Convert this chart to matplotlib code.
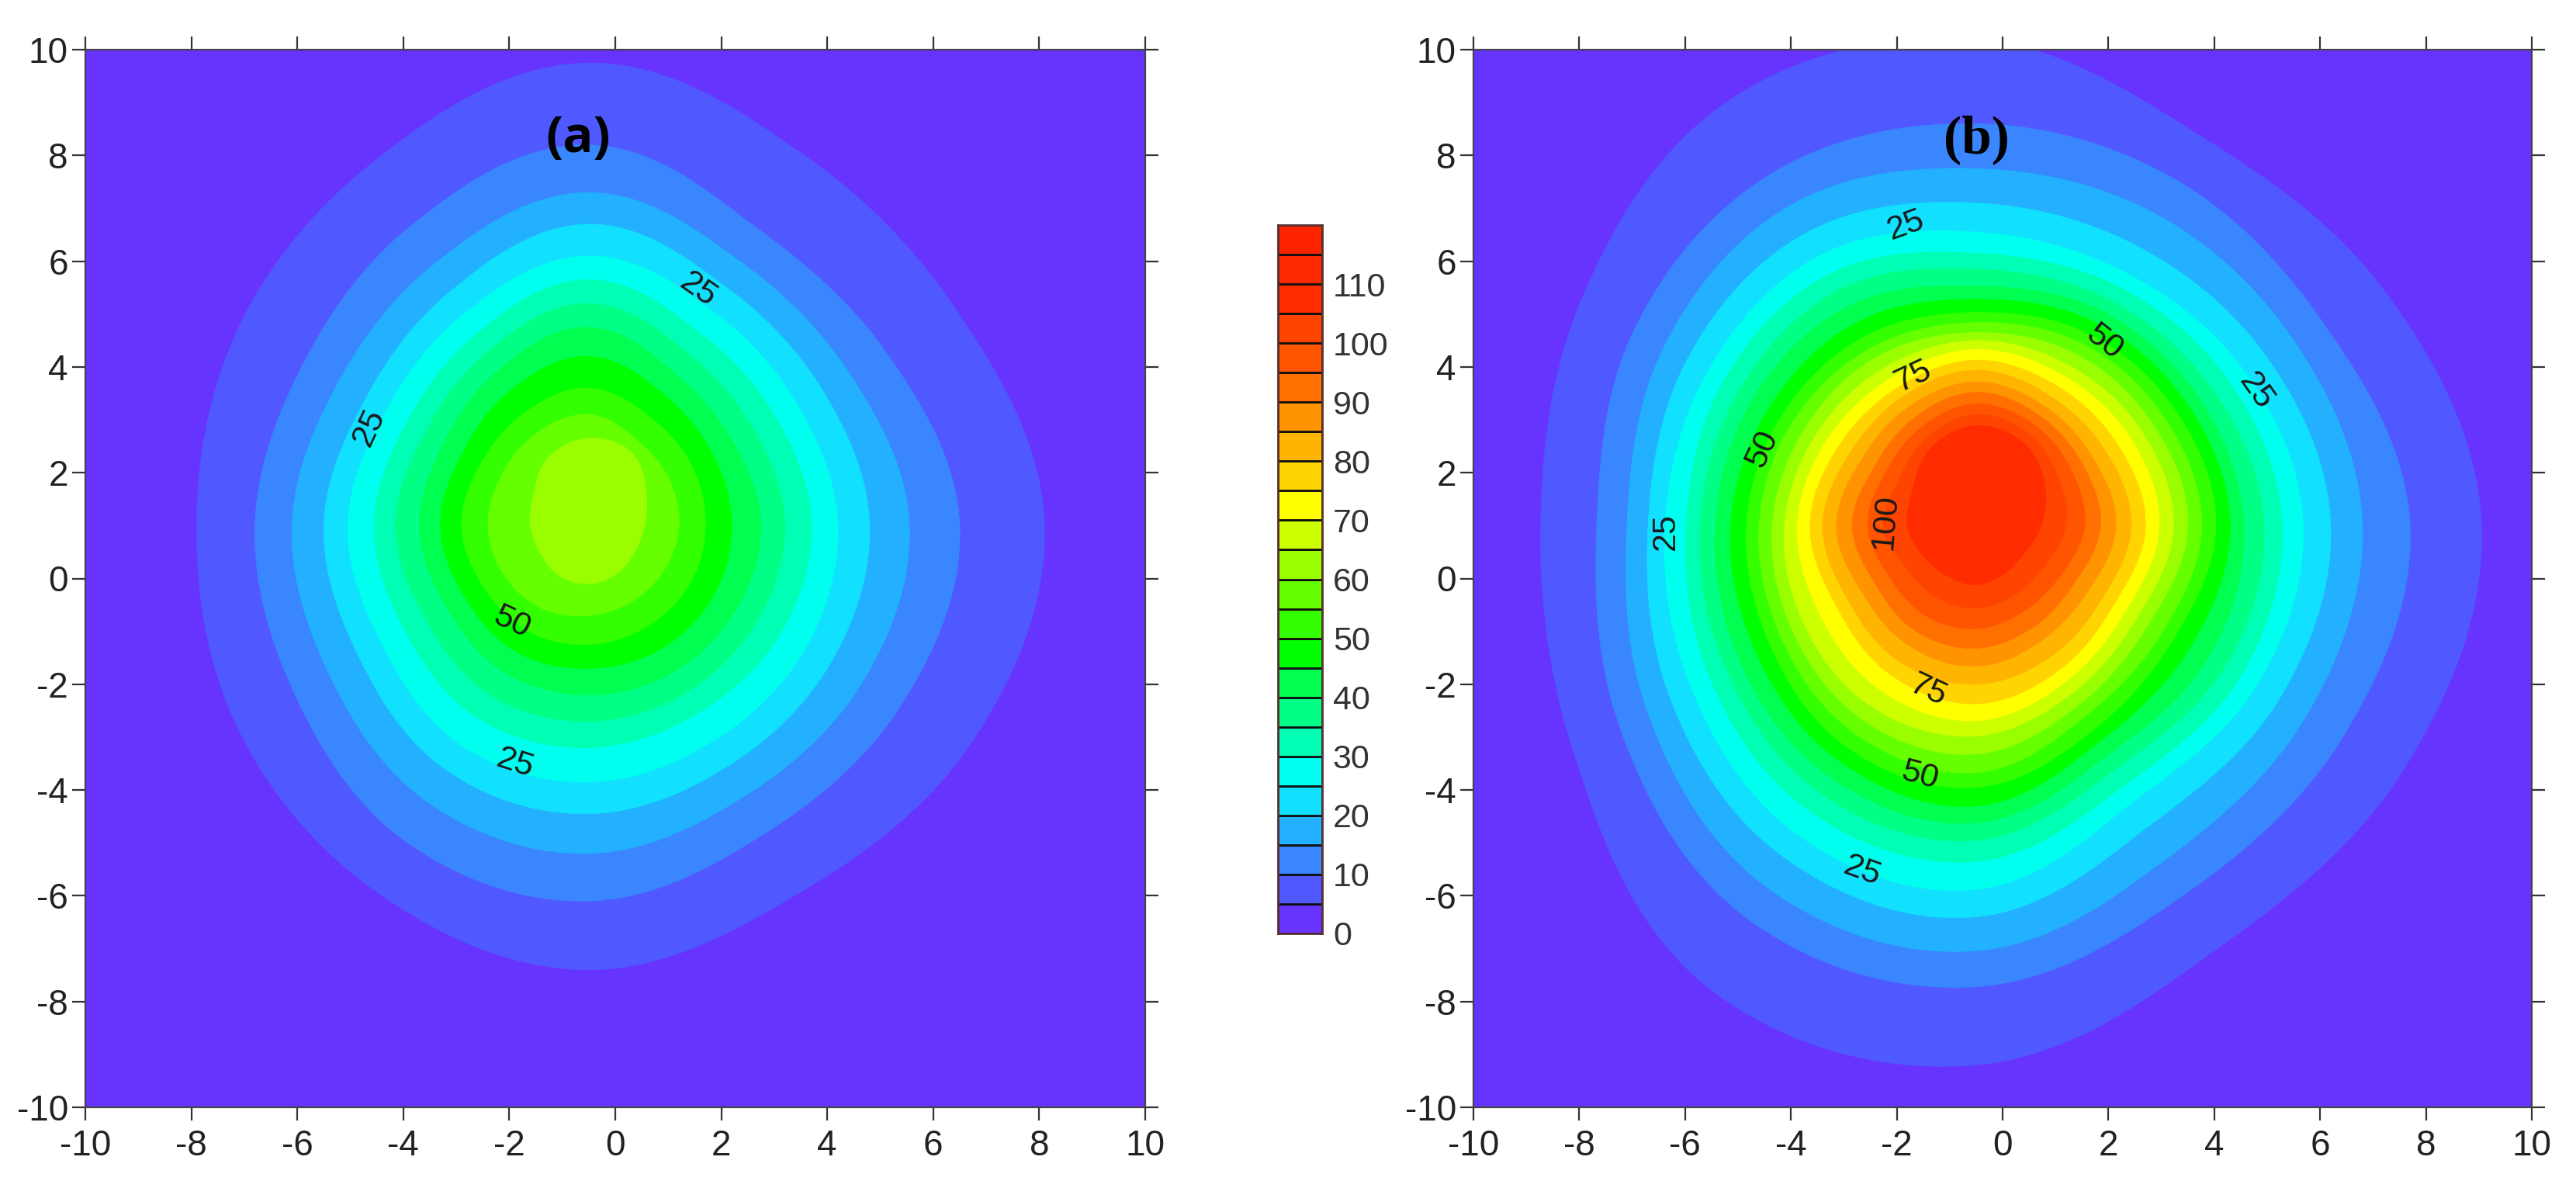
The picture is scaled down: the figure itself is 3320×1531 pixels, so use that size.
import numpy as np
import matplotlib
matplotlib.use("Agg")
import matplotlib.pyplot as plt

plt.rcParams['font.family'] = ['Liberation Sans', 'DejaVu Sans']
plt.rcParams['axes.unicode_minus'] = False

W, H = 3320, 1531

bands = ['#6633ff', '#5058ff', '#3a86ff', '#22b0ff', '#12e0ff', '#00ffee', '#00ffb4', '#00ff84',
         '#00ff50', '#00ff00', '#33ff00', '#66ff00', '#99ff00', '#ccff00', '#ffff00', '#ffd400',
         '#ffb400', '#ff9400', '#ff7000', '#ff5400', '#ff4400', '#ff2c00', '#ff2a00', '#ff2400']
bar_ticks = [0, 10, 20, 30, 40, 50, 60, 70, 80, 90, 100, 110]
ticks = [-10, -8, -6, -4, -2, 0, 2, 4, 6, 8, 10]

# radial distance of each contour from the peak, at 0, 30, ... 330 degrees
levels_a = [5, 10, 15, 20, 25, 30, 35, 40, 45, 50, 55, 60]
centre_a = (-0.5, 1.0)
radii_a = [
    [8.6, 8.05, 8.1, 8.75, 8.0, 7.6, 7.4, 7.65, 8.0, 8.4, 8.0, 8.3],
    [7.0, 6.5, 6.45, 7.2, 6.6, 6.2, 6.3, 6.4, 6.9, 7.1, 6.7, 6.8],
    [6.05, 5.7, 5.75, 6.3, 5.75, 5.45, 5.6, 5.65, 6.05, 6.2, 5.9, 5.95],
    [5.3, 5.1, 5.2, 5.7, 5.15, 4.85, 5.0, 5.0, 5.35, 5.45, 5.25, 5.25],
    [4.7, 4.55, 4.68, 5.1, 4.65, 4.4, 4.55, 4.5, 4.8, 4.85, 4.7, 4.7],
    [4.2, 4.08, 4.2, 4.65, 4.2, 3.95, 4.05, 4.0, 4.2, 4.2, 4.1, 4.15],
    [3.7, 3.6, 3.75, 4.2, 3.8, 3.55, 3.65, 3.55, 3.7, 3.7, 3.65, 3.65],
    [3.25, 3.15, 3.3, 3.75, 3.4, 3.15, 3.2, 3.1, 3.2, 3.2, 3.2, 3.2],
    [2.7, 2.7, 2.85, 3.2, 2.95, 2.75, 2.8, 2.7, 2.75, 2.7, 2.7, 2.7],
    [2.2, 2.25, 2.35, 2.6, 2.45, 2.35, 2.4, 2.3, 2.3, 2.25, 2.2, 2.2],
    [1.7, 1.75, 1.85, 2.1, 2.0, 1.9, 1.9, 1.85, 1.8, 1.7, 1.65, 1.65],
    [1.05, 1.25, 1.6, 1.65, 1.5, 1.2, 1.1, 1.05, 1.1, 1.1, 1.05, 1.0],
]
levels_b = [5, 10, 15, 20, 25, 30, 35, 40, 45, 50, 55, 60, 65, 70, 75, 80, 85, 90, 95, 100, 105]
centre_b = (-0.5, 1.0)
radii_b = [
    [9.55, 8.9, 8.5, 9.2, 9.3, 8.6, 8.23, 8.75, 10.1, 10.2, 9.2, 9.3],
    [8.2, 7.6, 7.55, 7.6, 7.7, 7.45, 7.17, 7.75, 8.6, 8.72, 8.0, 8.0],
    [7.3, 6.95, 6.8, 6.75, 7.0, 6.8, 6.6, 7.15, 7.9, 8.04, 7.25, 7.2],
    [6.7, 6.35, 6.1, 6.1, 6.4, 6.3, 6.2, 6.65, 7.25, 7.4, 6.55, 6.6],
    [6.18, 5.85, 5.55, 5.55, 5.9, 5.85, 5.88, 6.2, 6.75, 6.88, 6.0, 6.1],
    [5.78, 5.5, 5.25, 5.15, 5.5, 5.5, 5.48, 5.8, 6.25, 6.35, 5.65, 5.75],
    [5.44, 5.15, 4.95, 4.85, 5.15, 5.15, 5.22, 5.45, 5.85, 5.95, 5.3, 5.4],
    [5.06, 4.85, 4.7, 4.53, 4.8, 4.85, 4.93, 5.15, 5.5, 5.62, 5.0, 5.05],
    [4.8, 4.6, 4.45, 4.28, 4.45, 4.5, 4.64, 4.8, 5.15, 5.3, 4.7, 4.65],
    [4.53, 4.35, 4.2, 4.03, 4.15, 4.22, 4.34, 4.5, 4.85, 4.95, 4.45, 4.3],
    [4.26, 4.1, 3.98, 3.84, 3.9, 3.98, 4.1, 4.25, 4.55, 4.67, 4.15, 4.05],
    [4.0, 3.85, 3.75, 3.65, 3.7, 3.72, 3.85, 4.0, 4.25, 4.32, 3.9, 3.75],
    [3.73, 3.6, 3.5, 3.5, 3.45, 3.48, 3.62, 3.75, 3.95, 3.98, 3.65, 3.5],
    [3.46, 3.35, 3.28, 3.33, 3.22, 3.25, 3.38, 3.4, 3.6, 3.69, 3.4, 3.25],
    [3.2, 3.08, 3.05, 3.13, 3.0, 3.0, 3.14, 3.05, 3.25, 3.37, 3.15, 3.0],
    [2.93, 2.82, 2.82, 2.94, 2.8, 2.75, 2.9, 2.8, 2.95, 3.0, 2.85, 2.75],
    [2.64, 2.55, 2.6, 2.72, 2.58, 2.5, 2.64, 2.5, 2.6, 2.66, 2.5, 2.45],
    [2.35, 2.32, 2.4, 2.52, 2.35, 2.22, 2.34, 2.2, 2.3, 2.32, 2.2, 2.15],
    [2.05, 2.08, 2.2, 2.3, 2.12, 1.98, 2.05, 1.9, 1.95, 1.95, 1.85, 1.85],
    [1.7, 1.8, 2.0, 2.1, 1.9, 1.7, 1.75, 1.55, 1.55, 1.56, 1.5, 1.5],
    [1.23, 1.5, 1.8, 1.89, 1.7, 1.38, 1.3, 1.15, 1.1, 1.12, 1.05, 1.05],
]
labels_a = [('25', 1.57, 5.45, -35), ('25', -4.64, 2.86, 65), ('50', -1.96, -0.83, -25), ('25', -1.89, -3.5, -18)]
labels_b = [('25', -1.83, 6.68, 20), ('50', 1.92, 4.46, -38), ('25', 4.79, 3.54, -55), ('75', -1.69, 3.82, 25),
            ('50', -4.54, 2.45, 65), ('100', -2.22, 1.08, 85), ('25', -6.36, 0.88, 90), ('75', -1.4, -2.12, -25),
            ('50', -1.56, -3.73, -15), ('25', -2.65, -5.53, -20)]


def closed_curve(r, n=24):
    """Periodic Catmull-Rom through the radii read at the twelve directions."""
    r = np.asarray(r, float)
    m = len(r)
    t = np.linspace(0, 1, n, endpoint=False)[:, None]
    p0, p1, p2, p3 = np.roll(r, 1), r, np.roll(r, -1), np.roll(r, -2)
    out = 0.5 * (2 * p1 + (p2 - p0) * t + (2 * p0 - 5 * p1 + 4 * p2 - p3) * t ** 2
                 + (3 * p1 - p0 - 3 * p2 + p3) * t ** 3)
    rr = out.T.ravel()
    th = np.linspace(0, 2 * np.pi, m * n, endpoint=False)
    return th, rr


def axes_px(l, t, r, b):
    return fig.add_axes([l / W, 1 - b / H, (r - l) / W, (b - t) / H])


def panel(ax, levels, radii, centre, labels, title, title_x, title_font):
    ax.set_facecolor(bands[0])
    for lev, r in zip(levels, radii):
        th, rr = closed_curve(r)
        c = bands[lev // 5]
        ax.fill(centre[0] + rr * np.cos(th), centre[1] + rr * np.sin(th), color=c, lw=0.5, zorder=2)
    ax.set_xlim(-10, 10)
    ax.set_ylim(-10, 10)
    ax.set_xticks(ticks)
    ax.set_yticks(ticks)
    ax.tick_params(which='both', direction='out', length=12, width=1.6, color='#333333',
                   top=True, right=True, labelsize=33, labelcolor='#222222', pad=4)
    ax.tick_params(axis='x', pad=8)
    for s in ax.spines.values():
        s.set_linewidth(1.6)
        s.set_color('#444444')
    for txt, x, y, rot in labels:
        ax.text(x, y, txt, rotation=rot, ha='center', va='center', fontsize=31, color='#1a1a1a', zorder=5,
                rotation_mode='anchor')
    ax.text(title_x, 8.3, title, ha='center', va='center', zorder=6, color='black', **title_font)


fig = plt.figure(figsize=(W / 100, H / 100), dpi=100, facecolor='white')

ax_a = axes_px(110, 64, 1476, 1427)
panel(ax_a, levels_a, radii_a, centre_a, labels_a, '(a)', -0.7,
      dict(fontsize=47, fontweight='bold', family='Open Sans'))
ax_b = axes_px(1899, 64, 3263, 1427)
panel(ax_b, levels_b, radii_b, centre_b, labels_b, '(b)', -0.5,
      dict(fontsize=50, fontweight='bold', family='Liberation Serif'))

cb = axes_px(1647, 290, 1704, 1203)
edges = np.arange(0, 125, 5)
cb.bar(np.zeros(len(bands)), np.diff(edges), bottom=edges[:-1], width=1, color=bands,
       edgecolor='#111111', linewidth=2.0)
cb.set_xlim(-0.5, 0.5)
cb.set_ylim(0, 120)
cb.set_xticks([])
cb.yaxis.tick_right()
cb.set_yticks(bar_ticks)
cb.tick_params(axis='y', length=0, pad=10, labelsize=31, labelcolor='#333333')
for lab in cb.get_yticklabels():
    lab.set_ha('left')
for s in cb.spines.values():
    s.set_linewidth(2)
    s.set_color('#5a3030')

fig.savefig('out.png', dpi=100, facecolor='white')
